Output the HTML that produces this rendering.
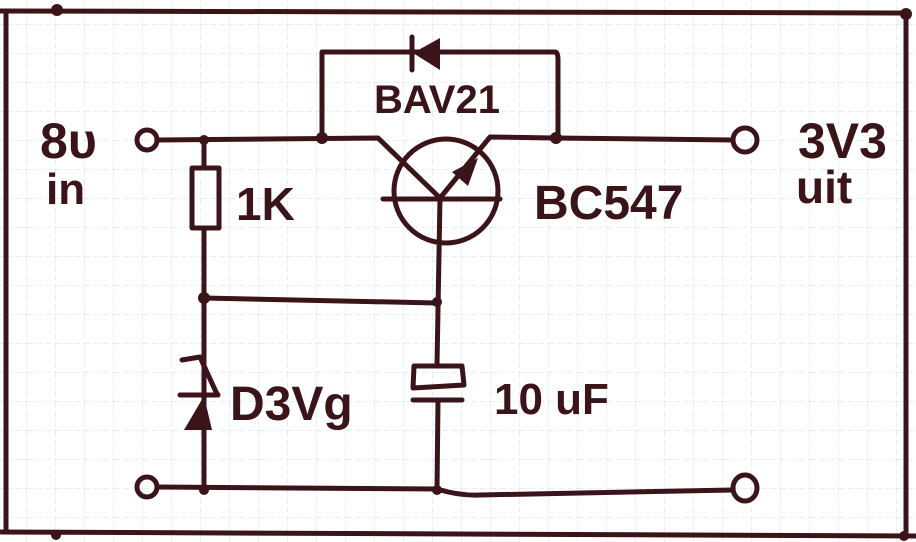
<!DOCTYPE html>
<html><head><meta charset="utf-8"><style>
html,body{margin:0;padding:0;background:#fff}
svg{display:block}
text{font-family:"Liberation Sans",sans-serif;fill:#3a1418}
</style></head><body>
<svg width="916" height="542" viewBox="0 0 916 542" xmlns="http://www.w3.org/2000/svg">
<defs>
<pattern id="g" width="29" height="29" patternUnits="userSpaceOnUse" x="-2" y="-4">
<path d="M29 0V29M0 29H29" stroke="#d6e4f0" stroke-width="1.2" fill="none" stroke-dasharray="6 3"/>
</pattern>
</defs>
<rect width="916" height="542" fill="#fff"/>
<rect width="916" height="542" fill="url(#g)"/>
<g stroke="#3a1418" stroke-width="5" fill="none" stroke-linecap="round" stroke-linejoin="round">
<path d="M0 11 L906 13"/><path d="M6 11 L6 532"/><path d="M906 14 L906 535"/><path d="M0 532 L916 536"/>
<circle cx="147" cy="140" r="10"/>
<path d="M157 140 L378 138 L440 198"/>
<path d="M204 140 L204 168"/>
<rect x="192" y="168" width="27" height="60"/>
<path d="M204 228 L204 490"/>
<path d="M204 298 L437 303"/>
<path d="M182 360 L200 357 L216 392 L218 395 M180 395 L216 395"/>
<path d="M204 430 L204 490"/>
<path d="M440 198 L437 365"/>
<path d="M414 366 L462 366 L464 385 L413 388 Z"/>
<path d="M413 400 L462 400"/>
<path d="M438 400 L437 490"/>
<circle cx="147" cy="487" r="10"/>
<path d="M157 487 L437 489 Q460 496 480 495 L733 490"/>
<ellipse cx="745" cy="488" rx="12" ry="13"/>
<path d="M322 138 L322 52 L555 52 Q558 52 558 60 L558 138"/>
<path d="M412 37 L412 70"/>
<circle cx="446" cy="191" r="52"/>
<path d="M383 199 L500 199"/>
<path d="M440 198 L490 137 L555 138 L733 140"/>
<circle cx="745" cy="140" r="12"/>
</g>
<g fill="#3a1418">
<circle cx="57" cy="10" r="6"/><circle cx="906" cy="14" r="6"/>
<circle cx="56" cy="535" r="5"/><circle cx="904" cy="536" r="5"/>
<circle cx="204" cy="140" r="5"/><circle cx="322" cy="138" r="6"/><circle cx="556" cy="138" r="6"/>
<circle cx="204" cy="298" r="6"/><circle cx="437" cy="302" r="5"/>
<circle cx="204" cy="490" r="5"/><circle cx="437" cy="490" r="5"/>
<path d="M413 53 L440 38 L440 70 Z"/>
<path d="M204 396 L184 430 L212 430 Z"/>
<path d="M478 158 L452 172 L468 186 Z"/>
</g>
<g font-weight="bold">
<text x="40" y="158" font-size="50">8υ</text>
<text x="46" y="204" font-size="44">in</text>
<text x="236" y="220" font-size="46">1K</text>
<text x="374" y="113" font-size="40">BAV21</text>
<text x="534" y="219" font-size="48">BC547</text>
<text x="798" y="158" font-size="50">3V3</text>
<text x="796" y="203" font-size="46">uit</text>
<text x="230" y="420" font-size="48">D3Vg</text>
<text x="494" y="414" font-size="44">10 uF</text>
</g>
</svg>
</body></html>
